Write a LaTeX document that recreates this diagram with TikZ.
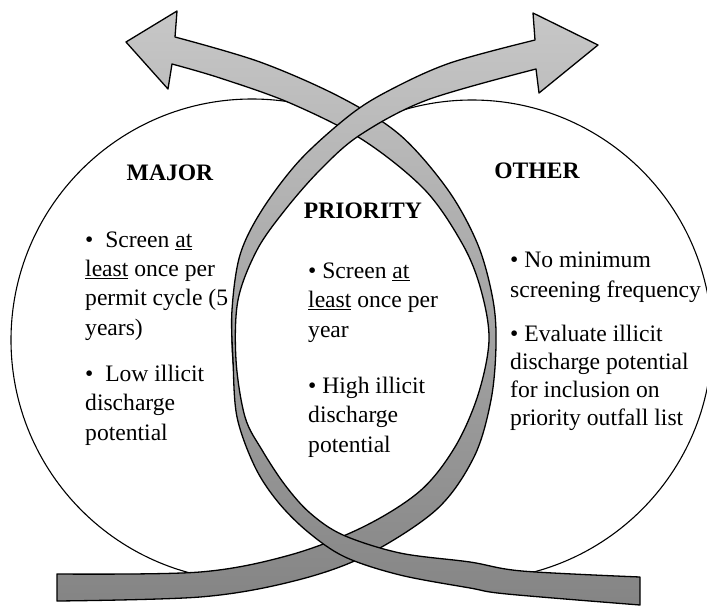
\documentclass[tikz,border=0pt]{standalone}
\usepackage{fontspec}
\setmainfont{Liberation Serif}

\begin{document}
\begin{tikzpicture}[x=1pt, y=-1pt, line cap = round, line join = round]
\tikzstyle{ring}=[draw=black, line width=1.1pt]
\tikzstyle{band}=[draw=black, line width=1.3pt, top color=black!22, bottom color=black!48]
\tikzstyle{title}=[font=\fontsize{23.6}{29.3}\selectfont\bfseries, anchor=base, inner sep=0pt]
\tikzstyle{bullets}=[font=\fontsize{23.6}{29.3}\selectfont, align=left, anchor=base west, inner sep=0pt]
\clip (0,0) rectangle (707,606);
\fill[white] (0,0) rectangle (707,606);

% the two sets
\draw[ring] (252,340) circle (241);
\draw[ring] (472,340) circle (240);

% ribbon round the major set
\path[band] plot[smooth, tension=0.55] coordinates {(57,574) (200,572) (290,555) (363,527) (420,491) (455,447) (478,395) (489,340) (481,290) (463,245) (425,190) (363,140) (290,103) (220,78) (172,64)}
  -- (168,89) -- (126,42) -- (177,11) -- (175,37)
  -- plot[smooth, tension=0.55] coordinates {(175,37) (260,62) (340,97) (400,135) (448,190) (478,245) (493,300) (496,345) (491,400) (474,457) (436,510) (363,557) (290,582) (200,597) (57,601)}
  -- cycle;

% ribbon round the other set
\path[band] plot[smooth, tension=0.55] coordinates {(640,577) (522,571) (470,562) (400,553) (343,535) (310,513) (285,485) (262,450) (245,417) (236,360) (238,300) (257,250) (285,210) (320,170) (360,135) (427,100) (536,69)}
  -- (539,93) -- (598,45) -- (533,13) -- (535,40)
  -- plot[smooth, tension=0.55] coordinates {(535,40) (450,63) (390,90) (350,115) (300,160) (262,210) (240,255) (232,310) (233,360) (237,417) (255,467) (278,502) (308,532) (345,557) (400,575) (470,588) (507,594) (640,605)}
  -- cycle;

\node[title] (major) at (170,180) {MAJOR};
\node[title] (other) at (537,178) {OTHER};
\node[title] (priority) at (363,218) {PRIORITY};

% multi-line nodes sit on the baseline of their last line
\node[bullets] (majorfreq) at (85,335) {\textbullet\ \ Screen \underline{at}\\\underline{least} once per\\permit cycle (5\\years)};
\node[bullets] (majorrisk) at (85,440) {\textbullet\ \ Low illicit\\discharge\\potential};
\node[bullets] (priofreq) at (308,337) {\textbullet\ Screen \underline{at}\\\underline{least} once per\\year};
\node[bullets] (priorisk) at (308,452) {\textbullet\ High illicit\\discharge\\potential};
\node[bullets] (otherfreq) at (510,297) {\textbullet\ No minimum\\screening frequency};
\node[bullets, font=\fontsize{23.6}{28}\selectfont] (otherrisk) at (510,425) {\textbullet\ Evaluate illicit\\discharge potential\\for inclusion on\\priority outfall list};
\end{tikzpicture}
\end{document}
